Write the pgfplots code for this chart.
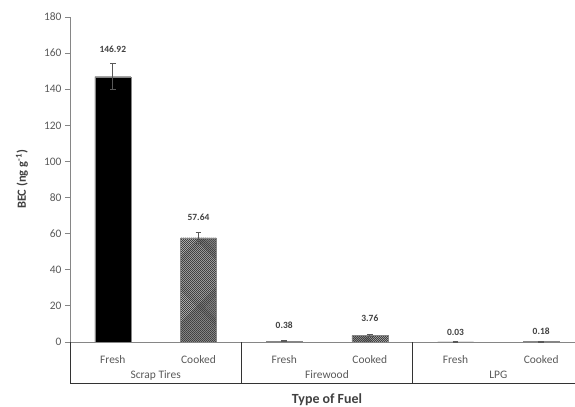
\documentclass[border=0pt]{standalone}
\usepackage{pgfplots}
\pgfplotsset{compat=1.18}
\usepackage{pgfplotstable}
\usepackage{fontspec}
\setmainfont{Carlito}
\usetikzlibrary{patterns}

\definecolor{axisgray}{HTML}{868686}
\definecolor{ticktext}{HTML}{595959}
\definecolor{labeltext}{HTML}{404040}
\definecolor{errgray}{HTML}{595959}

% fine diagonal cross-hatching for the cooked samples
\pgfdeclarepatternformonly{finecross}{\pgfqpoint{-0.5pt}{-0.5pt}}{\pgfqpoint{2.5pt}{2.5pt}}{\pgfqpoint{2pt}{2pt}}{
  \pgfsetlinewidth{0.55pt}
  \pgfpathmoveto{\pgfqpoint{-0.2pt}{-0.2pt}}\pgfpathlineto{\pgfqpoint{2.2pt}{2.2pt}}
  \pgfpathmoveto{\pgfqpoint{-0.2pt}{2.2pt}}\pgfpathlineto{\pgfqpoint{2.2pt}{-0.2pt}}
  \pgfusepath{stroke}}

% x: slot, y: BEC, err: standard deviation, lift: label offset (bp)
\pgfplotstableread{
x y err lift
0 146.92 7.2 27.7
2 0.38 0.3 16.3
4 0.03 0.2 9.9
}\fresh
\pgfplotstableread{
x y err lift
1 57.64 3.0 20.9
3 3.76 0.5 17.2
5 0.18 0.2 10.7
}\cooked

\begin{document}
\begin{tikzpicture}
\begin{axis}[
  scale only axis,
  width=514bp, height=325bp,
  xmin=-0.5, xmax=5.5, ymin=0, ymax=180,
  axis x line=bottom, axis y line=left,
  axis line style={-, draw=axisgray, line width=0.8pt},
  ytick={0,20,...,180},
  tick align=outside,
  major tick length=5bp,
  ytick style={draw=axisgray, line width=0.8pt},
  xtick={0,...,5},
  xticklabels={Fresh,Cooked,Fresh,Cooked,Fresh,Cooked},
  xtick style={draw=none},
  tick label style={font=\fontsize{11.5}{13}\selectfont, text=ticktext},
  /pgf/number format/assume math mode=true,
  xticklabel style={anchor=center, yshift=-13bp},
  ylabel={\textbf{BEC (ng g\textsuperscript{-1})}},
  ylabel style={at={(axis description cs:-0.0934,0.5)}, anchor=center,
    font=\fontsize{12.5}{14}\selectfont, text=labeltext},
  xlabel={\textbf{Type of Fuel}},
  xlabel style={at={(axis description cs:0.5,-0.1785)}, anchor=center,
    font=\fontsize{14}{16}\selectfont, text=labeltext},
  clip=false,
  visualization depends on={\thisrow{lift} \as \lift},
  nodes near coords={\pgfmathprintnumber[fixed, fixed zerofill, precision=2]{\pgfplotspointmeta}},
  nodes near coords style={anchor=center, yshift=\lift bp, font=\bfseries\fontsize{9.5}{11}\selectfont, text=labeltext},
  error bars/error bar style={draw=errgray, line width=1.2pt},
  error bars/error mark options={rotate=90, mark size=2.8bp, draw=errgray, line width=1.2pt},
]
\addplot[ybar, bar width=36bp, bar shift=0pt, fill=black, draw=axisgray, line width=0.4pt,
  error bars/.cd, y dir=both, y explicit]
  table[x=x, y=y, y error=err] {\fresh};
\addplot[ybar, bar width=36bp, bar shift=0pt, pattern=finecross, pattern color=black!75, draw=axisgray, line width=0.4pt,
  error bars/.cd, y dir=both, y explicit]
  table[x=x, y=y, y error=err] {\cooked};

% category table below the axis
\draw[black!80, line width=0.8pt] (axis cs:-0.5,0) -- ([yshift=-41bp]axis cs:-0.5,0) -- ([yshift=-41bp]axis cs:5.5,0);
\draw[black!80, line width=0.8pt] (axis cs:1.5,0) -- ([yshift=-41bp]axis cs:1.5,0);
\draw[black!80, line width=0.8pt] (axis cs:3.5,0) -- ([yshift=-41bp]axis cs:3.5,0);
\node[font=\fontsize{11.5}{13}\selectfont, text=ticktext] at ([yshift=-33bp]axis cs:0.5,0) {Scrap Tires};
\node[font=\fontsize{11.5}{13}\selectfont, text=ticktext] at ([yshift=-33bp]axis cs:2.5,0) {Firewood};
\node[font=\fontsize{11.5}{13}\selectfont, text=ticktext] at ([yshift=-33bp]axis cs:4.5,0) {LPG};
\end{axis}
\pgfresetboundingbox
\useasboundingbox (-70bp,-65bp) rectangle (505bp,342bp);
\end{tikzpicture}
\end{document}
